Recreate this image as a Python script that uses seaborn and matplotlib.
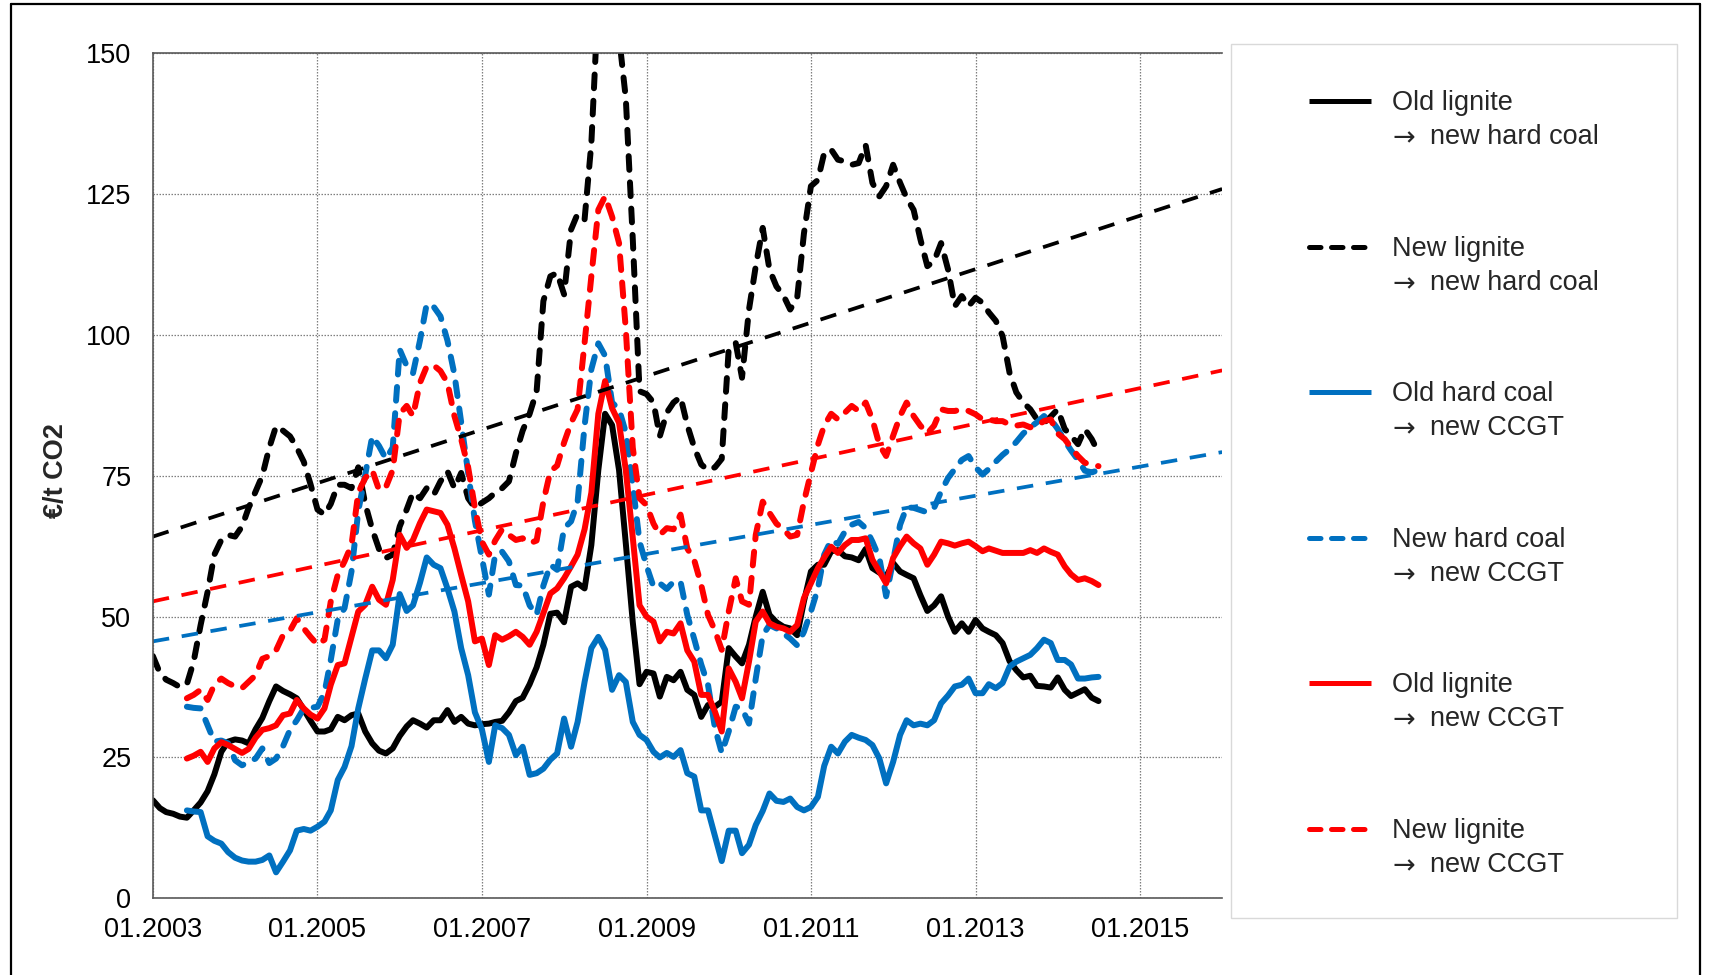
"""
plot.py  ·  CO2 switching prices, monthly 2003-2014, with linear trends
Run:  python plot.py   ->  out.png
"""

import pandas as pd
import matplotlib
matplotlib.use("Agg")
import matplotlib.pyplot as plt
import matplotlib.dates as mdates
from matplotlib.lines import Line2D
from matplotlib.patches import Rectangle
import seaborn as sns

# ── 1.  DATA (€/t CO2, monthly) ────────────────────────────────────────────
months = pd.date_range("2003-01-01", "2014-07-01", freq="MS")   # 139 months

old_lignite_hard = [
    17.4, 16.0, 15.3, 15.0, 14.5, 14.3, 15.6, 17.0, 19.0, 22.0, 26.0, 27.8,
    28.2, 28.0, 27.5, 30.0, 32.0, 35.0, 37.6, 36.8, 36.2, 35.5, 33.5, 31.5,
    29.6, 29.6, 30.0, 32.2, 31.6, 32.5, 32.8, 29.6, 27.5, 26.2, 25.7, 26.6,
    28.8, 30.5, 31.6, 31.0, 30.3, 31.6, 31.6, 33.4, 31.3, 32.2, 31.0, 30.7,
    30.9, 31.0, 31.3, 31.5, 33.0, 35.0, 35.6, 38.0, 41.0, 45.0, 50.5, 50.7,
    49.0, 55.3, 55.9, 55.0, 62.7, 76.0, 86.0, 84.0, 76.0, 63.0, 49.0, 38.0,
    40.2, 39.9, 35.8, 39.3, 38.7, 40.2, 37.0, 36.1, 32.2, 34.3, 34.0, 34.9,
    44.4, 42.9, 41.7, 45.0, 50.0, 54.4, 50.3, 49.0, 48.2, 47.9, 46.7, 52.7,
    58.0, 59.2, 59.2, 61.6, 61.8, 60.7, 60.5, 60.0, 62.0, 58.6, 57.8, 57.1,
    59.5, 58.0, 57.4, 56.8, 53.8, 51.0, 52.0, 53.6, 50.0, 47.3, 48.8, 47.3,
    49.4, 47.9, 47.3, 46.7, 45.3, 42.1, 40.5, 39.2, 39.5, 37.7, 37.6, 37.4,
    39.2, 37.0, 35.9, 36.5, 37.1, 35.6, 35.0,
]

new_lignite_hard = [
    43.0, 40.0, 38.8, 38.2, 37.5, 38.0, 42.0, 48.5, 54.4, 61.0, 63.6, 64.5,
    64.2, 66.0, 69.3, 72.2, 75.0, 80.0, 83.8, 83.0, 82.0, 80.0, 77.5, 73.5,
    69.0, 68.1, 70.0, 73.4, 73.4, 72.8, 76.5, 70.0, 65.5, 62.0, 60.4, 61.0,
    66.0, 69.0, 72.0, 71.0, 72.8, 71.6, 74.0, 75.8, 72.8, 75.5, 71.0, 69.3,
    70.2, 71.0, 72.0, 72.8, 74.0, 79.0, 83.0, 86.0, 90.0, 106.0, 110.4, 111.0,
    107.2, 118.7, 121.5, 120.5, 134.0, 160.0, 172.0, 170.0, 153.0, 142.0, 117.0, 90.0,
    89.5, 88.0, 82.0, 86.2, 88.0, 89.0, 84.0, 80.0, 77.0, 76.0, 76.5, 78.0,
    97.5, 98.6, 92.4, 104.5, 112.2, 119.0, 111.6, 108.6, 107.0, 104.5, 106.6, 118.0,
    126.4, 127.5, 132.3, 132.9, 131.1, 130.8, 130.2, 130.5, 133.7, 127.0, 124.6, 126.4,
    130.2, 127.0, 124.3, 122.2, 117.0, 112.2, 113.1, 116.3, 111.6, 105.1, 106.9, 105.1,
    106.6, 105.7, 104.0, 102.5, 99.8, 93.3, 89.8, 88.0, 86.8, 85.0, 84.4, 85.5,
    86.8, 83.3, 82.1, 80.6, 83.3, 81.5, 79.1,
]

# the four CCGT / hard-coal series start in 06.2003
old_hard_ccgt = [
    15.6, 15.4, 15.3, 11.0, 10.2, 9.7, 8.2,
    7.2, 6.7, 6.5, 6.5, 6.8, 7.6, 4.6, 6.5, 8.5, 12.0, 12.3, 12.0,
    12.7, 13.6, 15.6, 21.0, 23.3, 27.0, 33.7, 39.0, 44.0, 44.0, 42.6, 45.0,
    54.0, 51.0, 52.0, 56.0, 60.5, 59.2, 58.6, 55.0, 50.9, 44.4, 39.6, 33.0,
    30.0, 24.2, 30.7, 30.2, 29.0, 25.4, 26.9, 21.9, 22.2, 23.0, 24.6, 25.7,
    31.9, 26.9, 31.3, 38.4, 44.4, 46.4, 44.1, 37.0, 39.6, 38.4, 31.3, 29.0,
    28.1, 26.0, 25.0, 25.8, 25.1, 26.3, 22.2, 21.6, 15.6, 15.6, 11.0, 6.6,
    12.0, 12.0, 8.0, 9.5, 13.0, 15.5, 18.6, 17.3, 17.1, 17.7, 16.2, 15.6,
    16.2, 18.0, 23.5, 26.9, 25.7, 27.8, 29.0, 28.5, 28.1, 27.2, 24.8, 20.4,
    24.2, 29.0, 31.6, 30.7, 31.0, 30.7, 31.6, 34.6, 36.0, 37.6, 37.9, 39.0,
    36.4, 36.4, 38.0, 37.3, 38.2, 41.1, 42.0, 42.6, 43.2, 44.4, 45.9, 45.3,
    42.3, 42.3, 41.5, 39.0, 39.0, 39.2, 39.3,
]

new_hard_ccgt = [
    34.0, 33.8, 33.7, 30.7, 27.8, 28.0, 27.5,
    24.5, 23.6, 24.2, 24.8, 26.6, 24.0, 24.8, 27.0, 29.9, 31.6, 33.7, 33.8,
    34.0, 36.5, 42.3, 49.5, 51.5, 58.0, 68.7, 75.2, 82.0, 80.3, 78.0, 80.0,
    97.4, 94.5, 93.2, 99.0, 105.5, 105.0, 103.3, 99.0, 93.0, 84.5, 75.5, 67.0,
    60.4, 53.9, 61.0, 61.5, 59.8, 55.6, 55.5, 52.0, 50.3, 55.5, 59.2, 58.3,
    65.7, 66.9, 70.4, 83.9, 93.9, 98.5, 96.3, 88.0, 86.8, 82.7, 73.4, 63.3,
    59.0, 55.3, 55.9, 54.9, 56.2, 56.2, 50.3, 46.0, 41.5, 37.9, 30.2, 25.8,
    29.6, 34.0, 33.7, 31.0, 39.0, 46.7, 48.5, 47.9, 47.0, 46.1, 44.9, 47.3,
    50.9, 55.0, 61.0, 63.6, 62.9, 65.1, 66.3, 66.8, 65.7, 63.3, 60.4, 53.6,
    60.0, 66.3, 69.4, 69.3, 68.9, 68.5, 69.3, 72.2, 74.6, 76.2, 77.8, 78.5,
    76.5, 75.2, 76.2, 77.5, 78.7, 79.7, 81.0, 82.5, 83.6, 84.5, 85.6, 85.0,
    83.3, 81.2, 79.5, 77.8, 75.9, 75.6, 76.0,
]

old_lignite_ccgt = [
    24.8, 25.3, 26.0, 24.2, 26.6, 27.7, 27.2,
    26.5, 25.8, 26.5, 28.5, 29.9, 30.2, 30.7, 32.5, 32.8, 35.2, 33.7, 32.6,
    31.9, 33.7, 37.9, 41.4, 41.7, 46.4, 50.9, 52.1, 55.3, 53.0, 52.1, 56.5,
    64.5, 62.2, 63.6, 66.6, 69.0, 68.7, 68.4, 66.3, 62.1, 57.4, 52.7, 45.6,
    46.1, 41.4, 46.7, 45.9, 46.5, 47.3, 46.4, 45.0, 47.3, 50.6, 54.1, 55.0,
    56.8, 58.9, 61.0, 65.5, 72.0, 86.0, 91.8, 87.0, 84.4, 76.0, 64.0, 52.0,
    50.0, 49.1, 45.6, 47.3, 47.0, 48.8, 44.0, 42.0, 36.1, 36.1, 33.1, 29.6,
    40.8, 38.4, 35.5, 42.0, 49.1, 50.9, 48.8, 48.2, 47.9, 47.3, 48.5, 53.3,
    55.9, 58.6, 60.5, 62.4, 61.3, 62.7, 63.6, 63.6, 63.9, 60.1, 58.0, 55.9,
    60.4, 62.5, 64.2, 63.0, 62.1, 59.2, 61.0, 63.3, 63.0, 62.6, 63.0, 63.3,
    62.5, 61.6, 62.1, 61.7, 61.3, 61.3, 61.3, 61.3, 61.8, 61.3, 62.1, 61.5,
    61.0, 58.9, 57.5, 56.5, 56.8, 56.3, 55.6,
]

new_lignite_ccgt = [
    35.5, 36.1, 37.0, 35.2, 37.9, 39.0, 38.2,
    37.6, 37.3, 38.4, 39.6, 42.5, 43.0, 44.0, 46.7, 47.5, 49.7, 47.9, 46.4,
    45.0, 45.9, 52.7, 57.4, 59.8, 62.7, 72.0, 74.6, 76.0, 72.5, 73.0, 76.0,
    86.0, 87.4, 85.6, 91.5, 94.4, 94.6, 93.6, 91.5, 85.6, 81.5, 76.5, 69.3,
    63.3, 61.0, 63.5, 65.5, 64.5, 63.6, 63.9, 63.0, 63.5, 70.4, 75.8, 76.8,
    80.9, 84.4, 86.8, 98.6, 110.4, 122.2, 124.6, 121.0, 116.3, 101.0, 80.0, 71.0,
    69.8, 66.5, 64.5, 65.7, 65.5, 68.1, 62.1, 60.0, 55.6, 50.3, 47.5, 44.1,
    50.9, 56.8, 52.7, 52.1, 64.5, 70.4, 68.4, 66.5, 65.5, 64.2, 64.5, 70.4,
    75.5, 80.5, 83.9, 86.0, 85.0, 86.2, 87.4, 86.5, 88.0, 85.0, 80.5, 78.5,
    82.1, 85.6, 88.0, 85.6, 83.9, 82.5, 83.9, 86.8, 86.5, 86.5, 86.8, 86.5,
    85.9, 85.0, 85.0, 84.7, 84.7, 84.1, 83.9, 84.1, 83.6, 83.9, 84.7, 85.0,
    82.5, 81.5, 80.0, 78.5, 77.3, 77.0, 76.7,
]

# linear trends, start (01.2003) and end (01.2016) values
trend_dates = pd.to_datetime(["2003-01-01", "2016-01-01"])
trend_new_lignite_hard = [64.2, 125.9]
trend_new_lignite_ccgt = [52.7, 93.7]
trend_new_hard_ccgt = [45.6, 79.2]

legend_labels = [
    "Old lignite\n→ new hard coal",
    "New lignite\n→ new hard coal",
    "Old hard coal\n→ new CCGT",
    "New hard coal\n→ new CCGT",
    "Old lignite\n→ new CCGT",
    "New lignite\n→ new CCGT",
]

# ── 2.  STYLE ──────────────────────────────────────────────────────────────
sns.set_style("white")
plt.rcParams["font.family"] = ["Liberation Sans", "DejaVu Sans"]

BLACK, BLUE, RED = "#000000", "#0070C0", "#FF0000"
SOLID = "-"
DASHED = (0, (2.3, 2.1))
LW = 4.3
FS = 19.5

series = [
    (old_lignite_hard, BLACK, SOLID),
    (new_lignite_hard, BLACK, DASHED),
    (old_hard_ccgt, BLUE, SOLID),
    (new_hard_ccgt, BLUE, DASHED),
    (old_lignite_ccgt, RED, SOLID),
    (new_lignite_ccgt, RED, DASHED),
]

# ── 3.  PLOT ───────────────────────────────────────────────────────────────
fig = plt.figure(figsize=(17.1, 9.75), dpi=100)
ax = fig.add_axes([0.0894, 0.0787, 0.6253, 0.8667])

for vals, col, ls in series:
    sns.lineplot(x=months[-len(vals):], y=vals, ax=ax, color=col, lw=LW,
                 linestyle=ls, dash_capstyle="round", solid_joinstyle="round",
                 solid_capstyle="round", estimator=None, errorbar=None)

for vals, col in [(trend_new_lignite_hard, BLACK),
                  (trend_new_lignite_ccgt, RED),
                  (trend_new_hard_ccgt, BLUE)]:
    sns.lineplot(x=trend_dates, y=vals, ax=ax, color=col, lw=2.7,
                 linestyle=(0, (4.4, 3.4)), estimator=None, errorbar=None)

ax.set_xlim(pd.Timestamp("2003-01-01"), pd.Timestamp("2016-01-01"))
ax.set_ylim(0, 150)
ax.set_xticks(pd.date_range("2003-01-01", "2015-01-01", freq="24MS"))
ax.xaxis.set_major_formatter(mdates.DateFormatter("%m.%Y"))
ax.set_yticks(range(0, 151, 25))

ax.grid(True, color="#7f7f7f", lw=0.9, linestyle=(0, (1.2, 1.2)))
ax.set_axisbelow(True)
for side in ("left", "bottom", "top"):
    ax.spines[side].set_color("#595959")
    ax.spines[side].set_linewidth(1.2)
ax.spines["right"].set_visible(False)
ax.tick_params(axis="both", direction="out", length=6.5, width=1,
               color="#595959", labelsize=FS, labelcolor="black")
ax.tick_params(axis="y", pad=9)
ax.tick_params(axis="x", pad=7)

ax.set_xlabel("")
ax.set_ylabel("€/t CO2", fontsize=FS, fontweight="bold")
ax.yaxis.set_label_coords(-0.078, 0.506)

# ── 4.  LEGEND BOX (drawn in figure coordinates) ───────────────────────────
W, H = 1710, 975
fig.add_artist(Rectangle((1231 / W, 1 - 918 / H), 446 / W, 874 / H,
                         transform=fig.transFigure, fill=False,
                         edgecolor="#d9d9d9", lw=1))
for i, ((vals, col, ls), label) in enumerate(zip(series, legend_labels)):
    yc = 101.4 + 145.5 * i
    fig.add_artist(Line2D([1309 / W, 1371 / W], [1 - yc / H] * 2,
                          transform=fig.transFigure, color=col, lw=3.6,
                          linestyle=ls, dash_capstyle="round",
                          solid_capstyle="butt"))
    line1, line2 = label.split("\n")
    arrow, rest = line2.split(" ", 1)
    fig.text(1392 / W, 1 - (yc + 9) / H, line1, fontsize=FS, va="baseline")
    # the arrow is set in DejaVu Sans, whose glyph is long like the original
    fig.text(1392 / W, 1 - (yc + 44) / H, arrow, fontsize=FS,
             va="baseline", family="DejaVu Sans")
    fig.text(1430 / W, 1 - (yc + 42.8) / H, rest, fontsize=FS, va="baseline")

# outer frame
fr = dict(transform=fig.transFigure, color="black", lw=1.6)
fig.add_artist(Line2D([11 / W, 11 / W], [0, 1 - 4 / H], **fr))
fig.add_artist(Line2D([11 / W, 1700 / W], [1 - 4 / H, 1 - 4 / H], **fr))
fig.add_artist(Line2D([1700 / W, 1700 / W], [0, 1 - 4 / H], **fr))

fig.savefig("out.png", dpi=100)
plt.close(fig)
